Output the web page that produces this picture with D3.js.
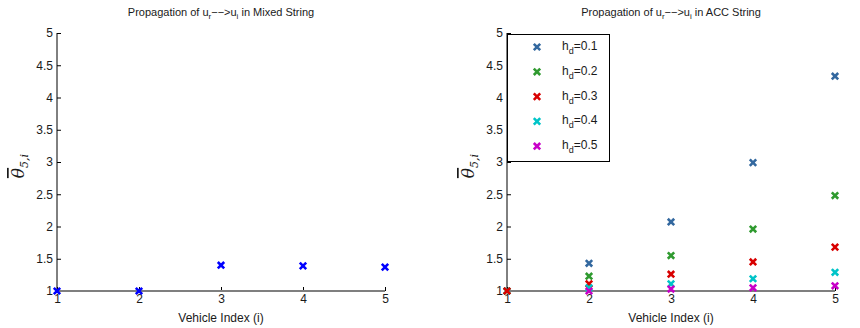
<!DOCTYPE html>
<html>
<head>
<meta charset="utf-8">
<script src="https://cdn.jsdelivr.net/npm/d3@7"></script>
<style>
  body { margin: 0; background: #fff; }
  svg { display: block; font-family: "Liberation Sans", Arial, sans-serif; }
</style>
</head>
<body>
<svg id="chart" width="860" height="328"></svg>
<script>
// Vehicle indices along the string
const vehicles = [1, 2, 3, 4, 5];
const yTicks = [1, 1.5, 2, 2.5, 3, 3.5, 4, 4.5, 5];

// Mixed string: theta bar for each vehicle
const mixedValues = [1.0, 1.0, 1.40, 1.39, 1.37];

// ACC string: one series per time headway h_d
const hdLabels = ["0.1", "0.2", "0.3", "0.4", "0.5"];
const accH01 = [1.0, 1.43, 2.07, 2.99, 4.33];
const accH02 = [1.0, 1.23, 1.55, 1.96, 2.48];
const accH03 = [1.0, 1.11, 1.26, 1.45, 1.68];
const accH04 = [null, 1.05, 1.11, 1.19, 1.29];
const accH05 = [null, 1.0, 1.03, 1.05, 1.08];
const accSeries = [accH01, accH02, accH03, accH04, accH05];
const accColors = ["#33689f", "#2f9a2f", "#d80000", "#00c4c8", "#c800c8"];

const svg = d3.select("#chart");
const plotTop = 33, plotBottom = 291;

function drawX(g, cx, cy, color) {
  const s = 3.2;
  g.append("path")
    .attr("d", `M${cx - s},${cy - s}L${cx + s},${cy + s}M${cx - s},${cy + s}L${cx + s},${cy - s}`)
    .attr("stroke", color).attr("stroke-width", 2.6).attr("fill", "none")
    .attr("stroke-linecap", "butt");
}

function panel(left, right, title) {
  const x = d3.scaleLinear().domain([1, 5]).range([left, right]);
  const y = d3.scaleLinear().domain([1, 5]).range([plotBottom, plotTop]);
  const g = svg.append("g");

  // y axis with inward ticks
  const ya = d3.axisLeft(y).tickValues(yTicks).tickSize(-4).tickPadding(4)
    .tickFormat(d => String(d));
  const yg = g.append("g").attr("transform", `translate(${left},0)`).call(ya);
  yg.select(".domain").attr("d", `M0,${plotTop}V${plotBottom}`).attr("stroke", "#000");
  yg.selectAll(".tick line").attr("stroke", "#000");
  yg.selectAll(".tick text").attr("font-size", 12).attr("fill", "#1a1a1a")
    .attr("font-family", "Liberation Sans, Arial, sans-serif").attr("x", -4);

  // x axis with inward ticks
  const xa = d3.axisBottom(x).tickValues(vehicles).tickSize(-4).tickPadding(5)
    .tickFormat(d3.format("d"));
  const xg = g.append("g").attr("transform", `translate(0,${plotBottom})`).call(xa);
  xg.select(".domain").remove();
  xg.selectAll(".tick line").attr("stroke", "#000");
  xg.selectAll(".tick text").attr("font-size", 12).attr("fill", "#1a1a1a")
    .attr("font-family", "Liberation Sans, Arial, sans-serif").attr("dy", "0.55em");

  // baseline drawn in grey over the bottom edge
  g.append("line").attr("x1", left).attr("x2", right)
    .attr("y1", y(1)).attr("y2", y(1))
    .attr("stroke", "#7f7f7f").attr("stroke-width", 2);

  // title with subscripts
  const t = g.append("text").attr("x", (left + right) / 2).attr("y", 16)
    .attr("text-anchor", "middle").attr("font-size", 11).attr("fill", "#1a1a1a");
  t.append("tspan").text("Propagation of u");
  t.append("tspan").attr("font-size", 8).attr("dy", 3).text("r");
  t.append("tspan").attr("dy", -3).text("−−>u");
  t.append("tspan").attr("font-size", 8).attr("dy", 3).text("i");
  t.append("tspan").attr("dy", -3).text(" " + title);

  // x label
  g.append("text").attr("x", (left + right) / 2).attr("y", 322)
    .attr("text-anchor", "middle").attr("font-size", 12).attr("fill", "#1a1a1a")
    .text("Vehicle Index (i)");

  // y label: theta bar with subscript 5,i
  const yl = g.append("text")
    .attr("transform", `translate(${left - 33},${(plotTop + plotBottom) / 2 + 4}) rotate(-90)`)
    .attr("text-anchor", "middle")
    .attr("font-family", "DejaVu Serif, serif").attr("font-style", "italic").attr("fill", "#1a1a1a");
  yl.append("tspan").attr("font-size", 17).style("text-decoration", "overline").text("θ");
  yl.append("tspan").attr("font-size", 11).attr("dy", 4).text("5,i");

  return { g, x, y };
}

// left panel: mixed string
const L = panel(57, 385, "in Mixed String");
vehicles.forEach((v, i) => drawX(L.g, L.x(v), L.y(mixedValues[i]), "#0000ff"));

// right panel: ACC string
const R = panel(507, 835, "in ACC String");
accSeries.forEach((vals, s) => {
  vals.forEach((val, i) => {
    if (val !== null) drawX(R.g, R.x(vehicles[i]), R.y(val), accColors[s]);
  });
});

// legend
const lg = R.g.append("g");
lg.append("rect").attr("x", 507.5).attr("y", 34.5).attr("width", 102).attr("height", 127)
  .attr("fill", "#fff").attr("stroke", "#000").attr("stroke-width", 1);
hdLabels.forEach((lab, i) => {
  const cy = 47 + i * 24.8;
  drawX(lg, 537, cy, accColors[i]);
  const t = lg.append("text").attr("x", 562).attr("y", cy + 3)
    .attr("font-size", 12).attr("fill", "#1a1a1a");
  t.append("tspan").text("h");
  t.append("tspan").attr("font-size", 9).attr("dy", 4).text("d");
  t.append("tspan").attr("dy", -4).text("=" + lab);
});
</script>
</body>
</html>
